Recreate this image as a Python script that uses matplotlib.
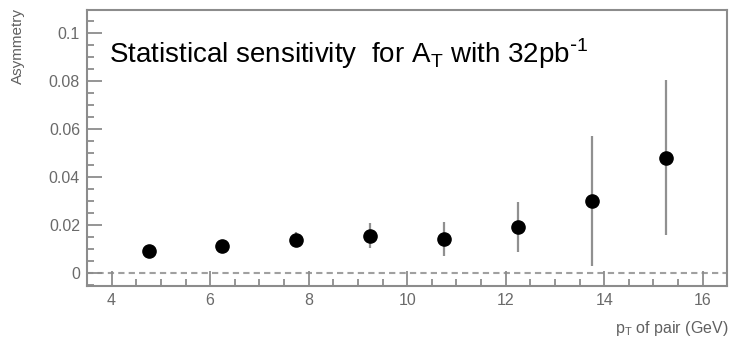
import numpy as np
import matplotlib
matplotlib.use("Agg")
import matplotlib.pyplot as plt
from matplotlib.ticker import MultipleLocator

# data
pt_pair = [4.75, 6.25, 7.75, 9.25, 10.75, 12.25, 13.75, 15.25]
asym = [0.0092, 0.0110, 0.0138, 0.0155, 0.0141, 0.0190, 0.0300, 0.0480]
asym_err = [0.0015, 0.0020, 0.0030, 0.0052, 0.0072, 0.0105, 0.0272, 0.0323]

x_ticks = [4, 6, 8, 10, 12, 14, 16]
y_ticks = [0, 0.02, 0.04, 0.06, 0.08, 0.1]
y_ticklabels = ["0", "0.02", "0.04", "0.06", "0.08", "0.1"]

plt.rcParams["font.family"] = ["Liberation Sans", "DejaVu Sans"]

fig = plt.figure(figsize=(7.31, 3.40), dpi=100)
ax = fig.add_axes([0.119, 0.159, 0.876, 0.812])

frame_col = "#8c8c8c"
for side in ax.spines.values():
    side.set_color(frame_col)
    side.set_linewidth(1.5)

# zero line
ax.axhline(0, color="#a0a0a0", linestyle=(0, (3, 2)), linewidth=1.5, zorder=1)

ax.errorbar(pt_pair, asym, yerr=asym_err, fmt="o", color="black",
            ecolor="#909090", elinewidth=1.6, capsize=0, markersize=9.5, zorder=3)

ax.set_xlim(3.5, 16.5)
ax.set_ylim(-0.0055, 0.1096)
ax.set_xticks(x_ticks)
ax.set_yticks(y_ticks)
ax.set_yticklabels(y_ticklabels)
ax.xaxis.set_minor_locator(MultipleLocator(0.5))
ax.yaxis.set_minor_locator(MultipleLocator(0.005))
ax.tick_params(which="both", direction="in", colors=frame_col, labelcolor="#6a6a6a",
               top=False, right=False, width=1.3)
ax.tick_params(which="major", length=11, labelsize=11.5, pad=5)
ax.tick_params(which="minor", length=5)

ax.text(0.035, 0.808, r"Statistical sensitivity  for A$_\mathregular{T}$ with 32pb$^\mathregular{\text{-}1}$",
        transform=ax.transAxes, fontsize=20, color="black", ha="left", va="baseline")

fig.text(0.025, 0.975, "Asymmetry", rotation=90, ha="center", va="top", fontsize=11, color="#606060")
fig.text(0.996, 0.035, "p$_\\mathregular{T}$ of pair (GeV)", ha="right", va="center",
         fontsize=11.5, color="#606060")

fig.savefig("out.png", dpi=100)
